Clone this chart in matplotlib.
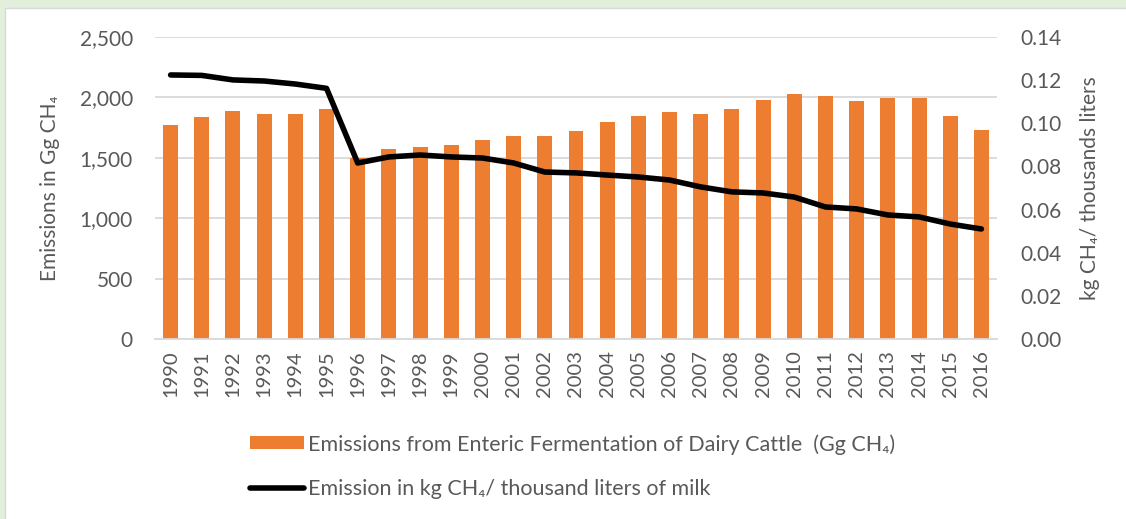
import numpy as np
import matplotlib
matplotlib.use("Agg")
import matplotlib.pyplot as plt
from matplotlib.patches import Rectangle

plt.rcParams['font.family'] = ['Lato', 'DejaVu Sans']

# data
years = [str(y) for y in range(1990, 2017)]
emissions_gg = [1770, 1840, 1890, 1865, 1865, 1905, 1500, 1575, 1590, 1605,
                1647, 1680, 1680, 1722, 1796, 1846, 1879, 1863, 1904, 1980,
                2028, 2010, 1970, 1995, 1995, 1846, 1730]
kg_per_kl = [0.1224, 0.1222, 0.1201, 0.1196, 0.1182, 0.1162, 0.0816, 0.0844,
             0.0853, 0.0844, 0.0839, 0.0816, 0.0774, 0.0770, 0.0760, 0.0751,
             0.0737, 0.0705, 0.0682, 0.0677, 0.0658, 0.0612, 0.0603, 0.0575,
             0.0566, 0.0533, 0.0510]
left_ticks = [0, 500, 1000, 1500, 2000, 2500]
right_ticks = [0, 0.02, 0.04, 0.06, 0.08, 0.10, 0.12, 0.14]

grey = '#595959'
orange = '#ED7D31'

fig = plt.figure(figsize=(11.26, 5.19), dpi=100, facecolor='white')
# light green frame at top/left like the source screenshot
fig.patches.append(Rectangle((0, 1 - 8/519), 1, 8/519, transform=fig.transFigure,
                             facecolor='#e2efda', edgecolor='none', zorder=0))
fig.patches.append(Rectangle((0, 0), 5/1126, 1, transform=fig.transFigure,
                             facecolor='#e2efda', edgecolor='none', zorder=0))
fig.patches.append(Rectangle((5/1126, -0.01), 1.1, 1 - 8/519 + 0.01, transform=fig.transFigure,
                             facecolor='none', edgecolor='#d9d9d9', lw=1, zorder=1))

ax = fig.add_axes([155/1126, 1 - 339/519, (997 - 155)/1126, (339 - 37)/519])
x = np.arange(len(years))
ax.bar(x, emissions_gg, width=0.48, color=orange, zorder=2,
       label='Emissions from Enteric Fermentation of Dairy Cattle  (Gg CH\u2084)')
ax.set_xlim(-0.5, len(years) - 0.5)
ax.set_ylim(0, 2500)
ax.set_yticks(left_ticks)
ax.set_yticklabels([f'{v:,}' for v in left_ticks])
ax.set_xticks(x)
ax.set_xticklabels(years, rotation=90)
ax.grid(axis='y', color='#d9d9d9', lw=1.3, zorder=0)
ax.set_axisbelow(True)
for s in ['top', 'left', 'right']:
    ax.spines[s].set_visible(False)
ax.spines['bottom'].set_color('#d9d9d9')
ax.spines['bottom'].set_linewidth(1.3)
ax.tick_params(length=0, colors=grey, labelsize=14.5)
ax.tick_params(axis='y', labelsize=15, pad=16)
ax.tick_params(axis='x', pad=8)
ax.set_ylabel('Emissions in Gg CH\u2084', color=grey, fontsize=15, labelpad=14)

ax2 = ax.twinx()
ax2.plot(x, kg_per_kl, color='black', lw=4, solid_capstyle='round', zorder=3,
         label='Emission in kg CH\u2084/ thousand liters of milk')
ax2.set_ylim(0, 0.14)
ax2.set_yticks(right_ticks)
ax2.set_yticklabels([f'{v:.2f}' for v in right_ticks])
for s in ax2.spines.values():
    s.set_visible(False)
ax2.tick_params(length=0, colors=grey, labelsize=15, pad=17)
ax2.set_ylabel('kg CH\u2084/ thousands liters', color=grey, fontsize=15, labelpad=13)

h1, l1 = ax.get_legend_handles_labels()
h2, l2 = ax2.get_legend_handles_labels()
leg = fig.legend(h1 + h2, l1 + l2, loc='upper left', bbox_to_anchor=(250/1126, 1 - 434/519),
                 frameon=False, fontsize=15.5, handlelength=2.5, handleheight=0.55,
                 labelspacing=1.15, handletextpad=0.2, borderpad=0, borderaxespad=0)
for t in leg.get_texts():
    t.set_color(grey)

fig.savefig('out.png', dpi=100, facecolor=fig.get_facecolor())
